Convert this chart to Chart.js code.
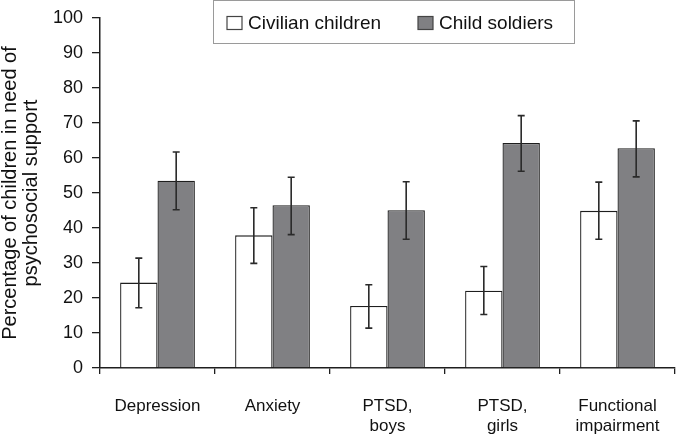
<!DOCTYPE html>
<html>
<head>
<meta charset="utf-8">
<script src="https://cdn.jsdelivr.net/npm/chart.js@4.4.1/dist/chart.umd.min.js"></script>
<style>
  html, body { margin: 0; padding: 0; background: #fff; }
  #wrap { width: 676px; height: 435px; position: relative; }
</style>
</head>
<body>
<div id="wrap"><canvas id="chartCanvas"></canvas></div>
<script>
const categories = ['Depression', 'Anxiety', ['PTSD,', 'boys'], ['PTSD,', 'girls'], ['Functional', 'impairment']];
const civilian = [24.4, 37.9, 17.7, 22.1, 44.9];
const civilianLow = [17.2, 29.9, 11.4, 15.3, 36.8];
const civilianHigh = [31.4, 45.8, 23.8, 29.0, 53.1];
const soldiers = [53.5, 46.5, 45.1, 64.3, 62.8];
const soldiersLow = [45.2, 38.1, 36.8, 56.2, 54.6];
const soldiersHigh = [61.7, 54.5, 53.2, 72.1, 70.6];
const yTicks = [0, 10, 20, 30, 40, 50, 60, 70, 80, 90, 100];

const canvas = document.getElementById('chartCanvas');
const c = canvas.getContext('2d');
const ink = '#1e1e1e';
const fontFamily = '"Liberation Sans", Arial, Helvetica, sans-serif';

Chart.defaults.font.family = fontFamily;
Chart.defaults.color = '#111';

// error bars, drawn through the y scale
const errorBars = {
    id: 'errorBars',
    afterDatasetsDraw(chart) {
        const ctx = chart.ctx;
        const y = chart.scales.y;
        ctx.save();
        ctx.strokeStyle = '#2a2a2a';
        ctx.lineWidth = 1.6;
        chart.data.datasets.forEach((ds, i) => {
            const meta = chart.getDatasetMeta(i);
            meta.data.forEach((bar, j) => {
                const top = y.getPixelForValue(ds.errHigh[j]);
                const bot = y.getPixelForValue(ds.errLow[j]);
                const cap = 3.5;
                ctx.beginPath();
                ctx.moveTo(bar.x, top); ctx.lineTo(bar.x, bot);
                ctx.moveTo(bar.x - cap, top); ctx.lineTo(bar.x + cap, top);
                ctx.moveTo(bar.x - cap, bot); ctx.lineTo(bar.x + cap, bot);
                ctx.stroke();
            });
        });
        ctx.restore();
    }
};

// boxed legend sitting inside the plot
const boxedLegend = {
    id: 'boxedLegend',
    afterDraw(chart) {
        const ctx = chart.ctx;
        const area = chart.chartArea;
        const left = area.left + 113.5;
        const top = 0.5;
        ctx.save();
        ctx.fillStyle = '#fff';
        ctx.strokeStyle = '#9a9a9a';
        ctx.lineWidth = 1;
        ctx.fillRect(left, top, 361, 43);
        ctx.strokeRect(left, top, 361, 43);
        ctx.font = '19px ' + fontFamily;
        ctx.textBaseline = 'middle';
        const starts = [left + 13.5, left + 204.5];
        chart.data.datasets.forEach((ds, i) => {
            const x = starts[i];
            ctx.fillStyle = ds.backgroundColor;
            ctx.strokeStyle = '#444';
            ctx.lineWidth = 1.2;
            ctx.fillRect(x, 16.5, 15, 13);
            ctx.strokeRect(x, 16.5, 15, 13);
            ctx.fillStyle = '#111';
            ctx.fillText(ds.label, x + 21, 23.5);
        });
        ctx.restore();
    }
};

const data = {
    labels: categories,
    datasets: [
        {
            label: 'Civilian children',
            data: civilian,
            errLow: civilianLow,
            errHigh: civilianHigh,
            backgroundColor: '#ffffff',
            borderColor: ink,
            borderWidth: 1.3
        },
        {
            label: 'Child soldiers',
            data: soldiers,
            errLow: soldiersLow,
            errHigh: soldiersHigh,
            backgroundColor: '#808083',
            borderColor: ink,
            borderWidth: 1.3
        }
    ]
};

const options = {
    responsive: false,
    animation: false,
    layout: { padding: { top: 0, right: 1, left: 0, bottom: 0 } },
    plugins: { legend: { display: false }, tooltip: { enabled: false } },
    datasets: { bar: { categoryPercentage: 0.65, barPercentage: 1.0 } },
    scales: {
        x: {
            offset: true,
            grid: { offset: true, drawOnChartArea: false, tickLength: 6, color: ink, lineWidth: 1.3 },
            border: { color: ink, width: 1.5 },
            ticks: { font: { size: 17, lineHeight: 1.2 }, padding: 22, color: '#111', maxRotation: 0 },
            afterFit: (scale) => {
                scale.height = 67;
                scale.paddingLeft = 0;
                scale.paddingRight = 0;
            }
        },
        y: {
            min: 0,
            max: 100,
            afterBuildTicks: (scale) => { scale.ticks = yTicks.map(v => ({ value: v })); },
            grid: { drawOnChartArea: false, tickLength: 8, color: ink, lineWidth: 1.3 },
            border: { color: ink, width: 1.5 },
            ticks: { font: { size: 18, lineHeight: 1 }, padding: 9, color: '#111' },
            title: {
                display: true,
                text: ['Percentage of children in need of', 'psychosocial support'],
                font: { size: 20, lineHeight: 1.05 },
                padding: { top: 0, bottom: 0 },
                color: '#111'
            },
            afterFit: (scale) => { scale.width = 100; }
        }
    }
};

canvas.width = 676;
canvas.height = 435;
new Chart(c, { type: 'bar', data: data, options: options, plugins: [errorBars, boxedLegend] });
</script>
</body>
</html>
